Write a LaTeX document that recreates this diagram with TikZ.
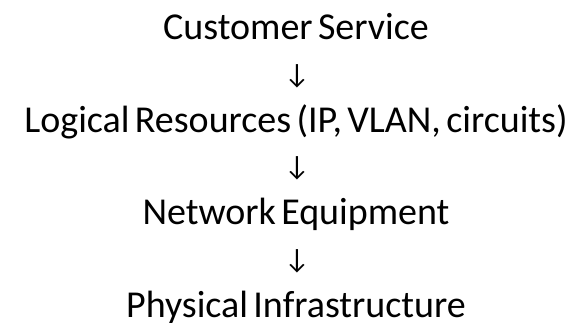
\documentclass[tikz,border=0pt]{standalone}
\usepackage{fontspec}
\setmainfont{Carlito}
\newcommand{\lblfont}{\fontsize{38}{46}\selectfont\fontdimen2\font=0.14em\relax}
\begin{document}
\begin{tikzpicture}[x=1pt,y=1pt,
  lbl/.style={anchor=base, inner sep=0pt, font=\lblfont, text=black},
  arr/.style={anchor=base, inner sep=0pt, font=\fontsize{28}{34}\selectfont, text=black}]
\useasboundingbox (0,0) rectangle (579,-322);
\node[lbl] (cs) at (296,-39) {Customer Service};
\node[arr] (a1) at (297,-83) {↓};
\node[lbl] (lr) at (296,-132) {Logical Resources (IP, VLAN, circuits)};
\node[arr] (a2) at (297,-175) {↓};
\node[lbl] (ne) at (296,-224) {Network Equipment};
\node[arr] (a3) at (297,-268) {↓};
\node[lbl] (pi) at (296,-317) {Physical Infrastructure};
\end{tikzpicture}
\end{document}
